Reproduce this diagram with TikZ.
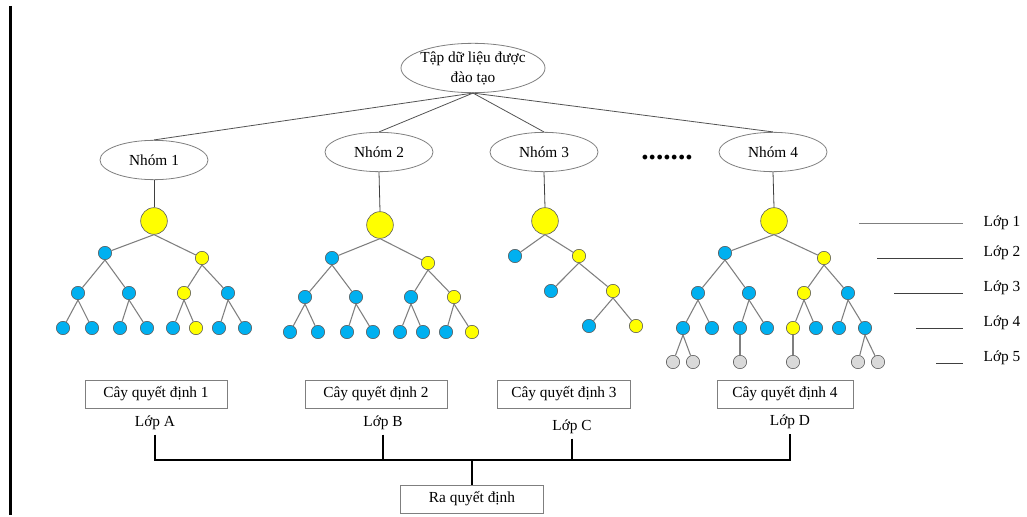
\documentclass[tikz,border=0pt]{standalone}
\usepackage{fontspec}
\setmainfont{Liberation Serif}
\usepackage{xcolor}
\usepackage{tikz}
\usetikzlibrary{shapes.geometric,positioning}
\definecolor{qdjaune}{HTML}{FFFF00}
\definecolor{qdbleu}{HTML}{00B0F0}
\definecolor{qdfeuille}{HTML}{D9D9D9}
\definecolor{qdtrait}{HTML}{7F7F7F}
\definecolor{qdbord}{HTML}{5A5A5A}
\definecolor{qdfonce}{HTML}{404040}

\begin{document}
\begin{tikzpicture}[x=0.75pt,y=-0.75pt,font=\fontsize{11.5}{15}\selectfont,
  groupe/.style={ellipse,draw=qdtrait,line width=0.6pt,minimum width=81pt,minimum height=29.5pt,inner sep=0pt},
  noeud/.style={circle,draw=qdbord,line width=0.45pt,minimum size=10pt,inner sep=0pt},
  racine/.style={noeud,fill=qdjaune,minimum size=20pt},
  arete/.style={qdtrait,line width=0.8pt},
  boite/.style={draw=qdtrait,line width=0.6pt,minimum height=21pt,inner sep=0pt},
  bus/.style={black,line width=1.4pt}]
  \useasboundingbox (0,0) rectangle (1027,517);
  % barre gauche
  \draw[line width=2.25pt] (10,6) -- (10,515);
  % donnees et groupes
  \node[ellipse,draw=qdtrait,line width=0.6pt,minimum width=108pt,minimum height=37pt,
        inner xsep=-8pt,inner ysep=-1pt,align=center] (donnees) at (473,68)
        {Tập dữ liệu được\\đào tạo};
  \foreach \g/\x/\y in {1/154/160,2/379/152,3/544/152,4/773/152} {
    \node[groupe] (g\g) at (\x,\y) {Nhóm \g};
    \draw[qdfonce!90,line width=0.6pt] (donnees.south) -- (g\g.north);
  }
  \node[font=\fontsize{22}{22}\selectfont\bfseries] (points) at (667,158) {.......};
  % racines
  \foreach \n/\x/\y/\g in {a0/154/221/1,b0/380/225/2,c0/545/221/3,d0/774/221/4} {
    \node[racine] (\n) at (\x,\y) {};
    \draw[qdfonce,line width=0.6pt] (g\g.south) -- (\n.north);
  }
  % noeuds : nom / x / y / couleur
  \foreach \n/\x/\y/\c in {%
    a1/105/253/qdbleu, a2/202/258/qdjaune, a3/78/293/qdbleu, a4/129/293/qdbleu,
    a5/184/293/qdjaune, a6/228/293/qdbleu, a7/63/328/qdbleu, a8/92/328/qdbleu,
    a9/120/328/qdbleu, a10/147/328/qdbleu, a11/173/328/qdbleu, a12/196/328/qdjaune,
    a13/219/328/qdbleu, a14/245/328/qdbleu,
    b1/332/258/qdbleu, b2/428/263/qdjaune, b3/305/297/qdbleu, b4/356/297/qdbleu,
    b5/411/297/qdbleu, b6/454/297/qdjaune, b7/290/332/qdbleu, b8/318/332/qdbleu,
    b9/347/332/qdbleu, b10/373/332/qdbleu, b11/400/332/qdbleu, b12/423/332/qdbleu,
    b13/446/332/qdbleu, b14/472/332/qdjaune,
    c1/515/256/qdbleu, c2/579/256/qdjaune, c3/551/291/qdbleu, c4/613/291/qdjaune,
    c5/589/326/qdbleu, c6/636/326/qdjaune,
    d1/725/253/qdbleu, d2/824/258/qdjaune, d3/698/293/qdbleu, d4/749/293/qdbleu,
    d5/804/293/qdjaune, d6/848/293/qdbleu, d7/683/328/qdbleu, d8/712/328/qdbleu,
    d9/740/328/qdbleu, d10/767/328/qdbleu, d11/793/328/qdjaune, d12/816/328/qdbleu,
    d13/839/328/qdbleu, d14/865/328/qdbleu,
    d15/673/362/qdfeuille, d16/693/362/qdfeuille, d17/740/362/qdfeuille,
    d18/793/362/qdfeuille, d19/858/362/qdfeuille, d20/878/362/qdfeuille} {
    \node[noeud,fill=\c] (\n) at (\x,\y) {};
  }
  % aretes
  \foreach \p/\e in {%
    a0/a1,a0/a2,a1/a3,a1/a4,a2/a5,a2/a6,a3/a7,a3/a8,a4/a9,a4/a10,a5/a11,a5/a12,a6/a13,a6/a14,
    b0/b1,b0/b2,b1/b3,b1/b4,b2/b5,b2/b6,b3/b7,b3/b8,b4/b9,b4/b10,b5/b11,b5/b12,b6/b13,b6/b14,
    c0/c1,c0/c2,c2/c3,c2/c4,c4/c5,c4/c6,
    d0/d1,d0/d2,d1/d3,d1/d4,d2/d5,d2/d6,d3/d7,d3/d8,d4/d9,d4/d10,d5/d11,d5/d12,d6/d13,d6/d14,
    d7/d15,d7/d16,d9/d17,d11/d18,d14/d19,d14/d20} {
    \draw[arete] (\p.south) -- (\e);
  }
  % niveaux a droite
  \foreach \i/\xs/\y/\ty/\c in {1/859/223/223/qdtrait,2/877/258/253/qdfonce,
    3/894/293/288/qdfonce,4/916/328/323/qdfonce,5/936/363/358/qdfonce} {
    \node[anchor=west] (lop\i) at (979,\ty) {Lớp \i};
    \coordinate (s\i) at (\xs,\y);
    \draw[\c,line width=0.75pt,shorten >=12pt] (s\i) -- (lop\i.west |- s\i);
  }
  % arbres de decision
  \foreach \k/\x/\w/\l/\lx/\ly in {1/156/106.5/A/155/423,2/376/106.5/B/383/423,
    3/564/100/C/572/427,4/785/102/D/790/422} {
    \node[boite,minimum width=\w pt] (k\k) at (\x,394) {Cây quyết định \k};
    \node (l\l) at (\lx,\ly) {Lớp \l};
  }
  \node[boite,minimum width=107pt] (ra) at (472,499) {Ra quyết định};
  \coordinate (j) at (472,460);
  \draw[bus] (lA.south) -- (lA.south |- j) -- (lD.south |- j) -- (lD.south);
  \draw[bus] (lB.south) -- (lB.south |- j);
  \draw[bus] (lC.south) -- (lC.south |- j);
  \draw[bus] (j) -- (ra.north);
\end{tikzpicture}
\end{document}
